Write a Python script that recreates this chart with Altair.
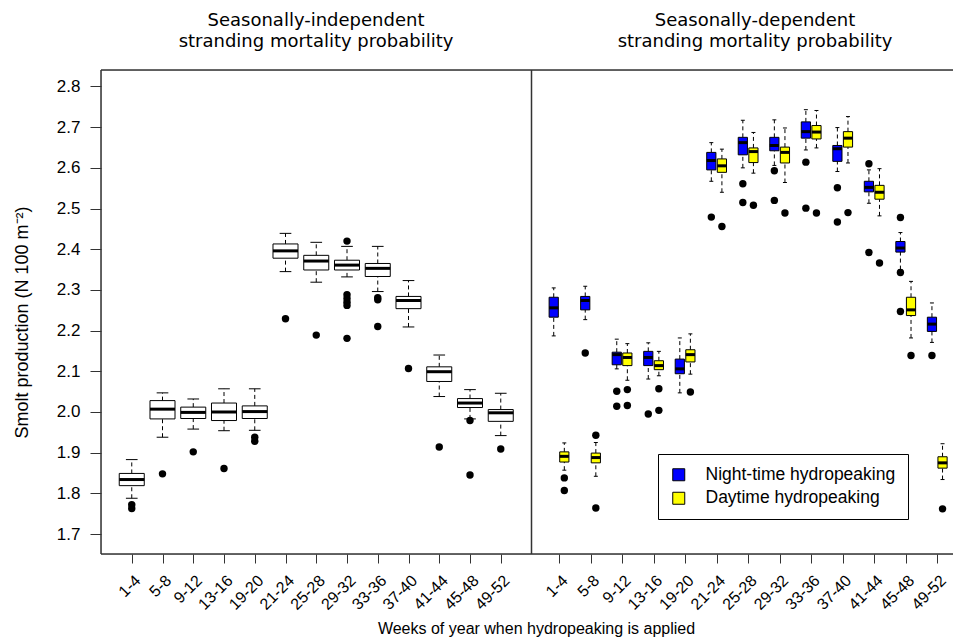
import json
import altair as alt
import pandas as pd

# ---------------- data ----------------
weeks = ["1-4", "5-8", "9-12", "13-16", "19-20", "21-24", "25-28",
         "29-32", "33-36", "37-40", "41-44", "45-48", "49-52"]
y_ticks = [1.7, 1.8, 1.9, 2.0, 2.1, 2.2, 2.3, 2.4, 2.5, 2.6, 2.7, 2.8]

# Seasonally-independent stranding mortality probability
ind_low = [1.788, 1.938, 1.958, 1.954, 1.955, 2.345, 2.319, 2.332, 2.296, 2.209, 2.038, 1.983, 1.942]
ind_q1 = [1.819, 1.983, 1.984, 1.979, 1.984, 2.378, 2.349, 2.349, 2.333, 2.254, 2.075, 2.011, 1.977]
ind_med = [1.834, 2.007, 1.999, 2.000, 2.001, 2.396, 2.371, 2.361, 2.353, 2.274, 2.099, 2.022, 1.998]
ind_q3 = [1.849, 2.028, 2.012, 2.022, 2.015, 2.413, 2.385, 2.373, 2.365, 2.284, 2.111, 2.033, 2.006]
ind_high = [1.883, 2.047, 2.032, 2.057, 2.057, 2.439, 2.417, 2.407, 2.407, 2.323, 2.140, 2.055, 2.046]
ind_out = [[1.772, 1.763], [1.848], [1.902], [1.861], [1.938, 1.928], [2.229], [2.189],
           [2.420, 2.288, 2.279, 2.270, 2.262, 2.181], [2.281, 2.276, 2.210], [2.107],
           [1.914], [1.979, 1.845], [1.909]]

# Seasonally-dependent: night-time hydropeaking
night_low = [2.187, 2.227, 2.106, 2.081, 2.047, 2.567, 2.600, 2.606, 2.644, 2.591, 2.513, 2.350, 2.171]
night_q1 = [2.233, 2.251, 2.116, 2.114, 2.094, 2.595, 2.632, 2.642, 2.673, 2.616, 2.541, 2.393, 2.198]
night_med = [2.256, 2.274, 2.141, 2.134, 2.106, 2.618, 2.662, 2.655, 2.689, 2.647, 2.552, 2.403, 2.216]
night_q3 = [2.282, 2.284, 2.147, 2.149, 2.130, 2.638, 2.675, 2.675, 2.713, 2.655, 2.567, 2.419, 2.233]
night_high = [2.305, 2.309, 2.179, 2.170, 2.182, 2.662, 2.717, 2.718, 2.743, 2.699, 2.595, 2.441, 2.268]
night_out = [[], [2.145], [2.051, 2.014], [1.995], [], [2.479], [2.561, 2.515], [2.593, 2.520],
             [2.614, 2.501], [2.551, 2.467], [2.610, 2.392], [2.478, 2.343, 2.247], [2.139]]

# Seasonally-dependent: daytime hydropeaking
day_low = [1.857, 1.842, 2.078, 2.089, 2.093, 2.540, 2.587, 2.564, 2.649, 2.612, 2.482, 2.182, 1.834]
day_q1 = [1.877, 1.875, 2.114, 2.104, 2.123, 2.589, 2.613, 2.612, 2.671, 2.651, 2.523, 2.237, 1.862]
day_med = [1.891, 1.888, 2.134, 2.114, 2.141, 2.605, 2.640, 2.638, 2.688, 2.673, 2.540, 2.251, 1.875]
day_q3 = [1.902, 1.899, 2.145, 2.126, 2.153, 2.622, 2.649, 2.651, 2.704, 2.689, 2.557, 2.282, 1.890]
day_high = [1.924, 1.925, 2.168, 2.149, 2.192, 2.646, 2.687, 2.698, 2.741, 2.726, 2.598, 2.321, 1.922]
day_out = [[1.838, 1.807], [1.943, 1.764], [2.055, 2.016], [2.057, 2.004], [2.049], [2.456],
           [2.508], [2.489], [2.489], [2.490], [2.366], [2.139], [1.762]]

NIGHT = "Night-time hydropeaking"
DAY = "Daytime hydropeaking"
panel_titles = [["Seasonally-independent", "stranding mortality probability"],
                ["Seasonally-dependent", "stranding mortality probability"]]
x_title = "Weeks of year when hydropeaking is applied"
y_title = "Smolt production (N 100 m\u207b\u00b2)"


# ---------------- tables ----------------
def box_table(series, low, q1, med, q3, high):
    return pd.DataFrame({"idx": list(range(1, len(weeks) + 1)), "series": series,
                         "low": low, "q1": q1, "med": med, "q3": q3, "high": high})


def out_table(series, out):
    rows = [{"idx": i + 1, "series": series, "value": v} for i, vs in enumerate(out) for v in vs]
    return pd.DataFrame(rows)


left_box = box_table("ind", ind_low, ind_q1, ind_med, ind_q3, ind_high)
left_out = out_table("ind", ind_out)
right_box = pd.concat([box_table(NIGHT, night_low, night_q1, night_med, night_q3, night_high),
                       box_table(DAY, day_low, day_q1, day_med, day_q3, day_high)], ignore_index=True)
right_out = pd.concat([out_table(NIGHT, night_out), out_table(DAY, day_out)], ignore_index=True)

# ---------------- layout / style ----------------
FONT = "Liberation Sans"
W, H = 852, 484
LEFT_W = 430.5
FRAME = "#333333"

y_scale = alt.Scale(domain=[1.651, 2.8405], nice=False, zero=False)
y_axis = alt.Axis(values=y_ticks, format=".1f", domain=False, grid=False, tickSize=11,
                  tickColor=FRAME, labelPadding=10, labelFont=FONT, labelFontSize=17,
                  labelColor="black", title=y_title, titleFont=FONT, titleFontSize=18,
                  titleFontWeight="normal", titleColor="black", titleAngle=-90,
                  titleX=-79, titleY=252, titleAlign="center", titleBaseline="middle")

label_expr = json.dumps(weeks) + "[datum.value - 1]"
common_x = dict(values=list(range(1, len(weeks) + 1)), labelExpr=label_expr, orient="bottom",
                domain=False, grid=False, tickSize=9, tickColor=FRAME, labelAngle=-45,
                labelAlign="right", labelBaseline="top", labelPadding=9, labelFont=FONT,
                labelFontSize=16, labelColor="black", labelOverlap=False, labelFlush=False,
                labelBound=False)
xl_axis = alt.Axis(title=x_title, titleFont=FONT, titleFontSize=16, titleFontWeight="normal",
                   titleColor="black", titleX=435, titleY=74, titleAlign="center",
                   titleBaseline="middle", **common_x)
xr_axis = alt.Axis(title=None, **common_x)

xl_scale = alt.Scale(domain=[0, 14], range=[0, LEFT_W], nice=False, zero=False)
xr_scale = alt.Scale(domain=[0, 13.5], range=[426.5, W], nice=False, zero=False)


def panel(box_df, out_df, x_scale, x_axis, hw, cap, calc, fill):
    def X(f):
        return alt.X(f, type="quantitative", scale=x_scale, axis=x_axis)

    def Y(f):
        return alt.Y(f, type="quantitative", scale=y_scale, axis=y_axis)

    base = (alt.Chart(box_df)
            .transform_calculate(xc=calc)
            .transform_calculate(xl=f"datum.xc - {hw}", xr=f"datum.xc + {hw}",
                                 cl=f"datum.xc - {cap}", cr=f"datum.xc + {cap}"))
    dash = dict(color="black", strokeWidth=1, strokeDash=[4, 3])
    wh_lo = base.mark_rule(**dash).encode(x=X("xc"), y=Y("low"), y2="q1")
    wh_hi = base.mark_rule(**dash).encode(x=X("xc"), y=Y("q3"), y2="high")
    cap_lo = base.mark_rule(color="black", strokeWidth=1).encode(x=X("cl"), x2="cr", y=Y("low"))
    cap_hi = base.mark_rule(color="black", strokeWidth=1).encode(x=X("cl"), x2="cr", y=Y("high"))
    box = base.mark_rect(stroke="black", strokeWidth=1).encode(
        x=X("xl"), x2="xr", y=Y("q1"), y2="q3", fill=fill)
    med = base.mark_rule(color="black", strokeWidth=3).encode(x=X("xl"), x2="xr", y=Y("med"))
    out = (alt.Chart(out_df).transform_calculate(xc=calc)
           .mark_circle(size=55, color="black", opacity=1)
           .encode(x=X("xc"), y=Y("value")))
    return alt.layer(wh_lo, wh_hi, cap_lo, cap_hi, box, med, out)


fill_scale = alt.Scale(domain=[NIGHT, DAY], range=["#0000ff", "#ffff00"])
legend = alt.Legend(title=None, orient="none", legendX=557, legendY=384,
                    strokeColor="black", fillColor="white", padding=12, symbolType="square",
                    symbolSize=144, symbolStrokeColor="black", symbolStrokeWidth=1,
                    labelFont=FONT, labelFontSize=17.5, labelColor="black", labelOffset=18,
                    rowPadding=4.5, labelLimit=400, cornerRadius=0)

left = panel(left_box, left_out, xl_scale, xl_axis, 0.407, 0.19, "datum.idx", alt.value("white"))
right = panel(right_box, right_out, xr_scale, xr_axis, 0.146, 0.063,
              f"datum.idx + (datum.series === '{NIGHT}' ? -0.168 : 0.168)",
              alt.Fill("series:N", scale=fill_scale, legend=legend))

one = pd.DataFrame({"a": [0]})
frame_style = dict(color=FRAME, strokeWidth=1.5)
top = alt.Chart(one).mark_rule(**frame_style).encode(x=alt.value(0), x2=alt.value(W), y=alt.value(0))
bottom = alt.Chart(one).mark_rule(**frame_style).encode(x=alt.value(0), x2=alt.value(W), y=alt.value(H))
left_edge = alt.Chart(one).mark_rule(**frame_style).encode(x=alt.value(0), y=alt.value(0), y2=alt.value(H))
divider = alt.Chart(one).mark_rule(**frame_style).encode(x=alt.value(LEFT_W), y=alt.value(0), y2=alt.value(H))

title_charts = []
for center, lines in zip([215, 654], panel_titles):
    for k, line in enumerate(lines):
        title_charts.append(
            alt.Chart(pd.DataFrame({"t": [line]}))
            .mark_text(font="DejaVu Sans", fontSize=18, color="black", align="center",
                       baseline="middle", x=center, y=-49 + 21 * k)
            .encode(text="t:N"))

chart = (alt.layer(left, right, top, bottom, left_edge, divider, *title_charts)
         .resolve_scale(x="independent")
         .properties(width=W, height=H,
                     autosize=alt.AutoSizeParams(type="none"),
                     padding={"left": 101, "top": 70, "right": 0, "bottom": 89})
         .configure_view(stroke=None)
         .configure(background="white"))

chart.save("out.html", embed_options={"renderer": "svg", "actions": False})
